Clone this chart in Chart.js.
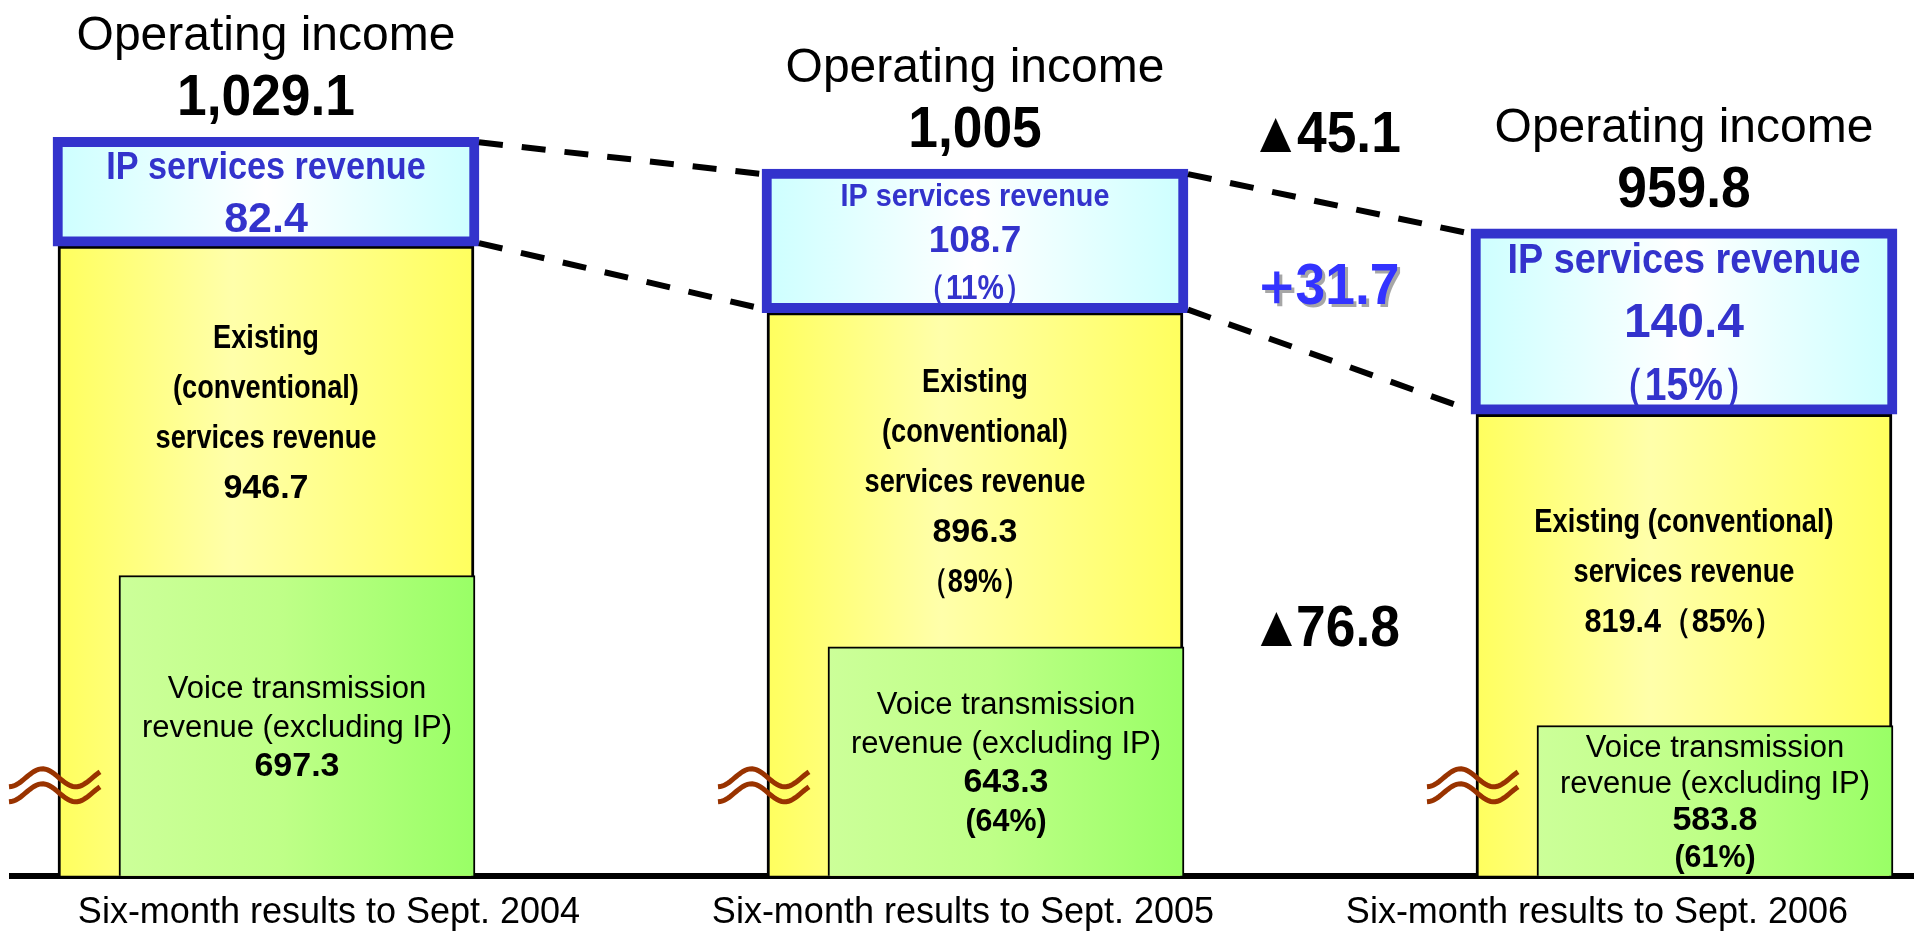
<!DOCTYPE html>
<html>
<head>
<meta charset="utf-8">
<title>IP services revenue vs existing services revenue</title>
<script src="https://cdn.jsdelivr.net/npm/chart.js@4.4.1/dist/chart.umd.min.js"></script>
<style>
  html, body { margin: 0; padding: 0; background: #fff; }
  #wrap { width: 1914px; height: 933px; }
</style>
</head>
<body>
<div id="wrap"><canvas id="myChart"></canvas></div>
<script>
// values (billions of yen)
const periods = ['Six-month results to Sept. 2004', 'Six-month results to Sept. 2005', 'Six-month results to Sept. 2006'];
const operatingIncome = [1029.1, 1005, 959.8];
const ipRevenue = [82.4, 108.7, 140.4];
const existingRevenue = [946.7, 896.3, 819.4];
const voiceRevenue = [697.3, 643.3, 583.8];
const ipShare = [null, 11, 15];
const existingShare = [null, 89, 85];
const voiceShare = [null, 64, 61];
const incomeChange = -45.1;
const ipChange = 31.7;
const existingChange = -76.8;

const incomeCaption = 'Operating income';
const ipCaption = 'IP services revenue';
const existingCaption = [
  ['Existing', '(conventional)', 'services revenue'],
  ['Existing', '(conventional)', 'services revenue'],
  ['Existing (conventional)', 'services revenue']
];
const voiceCaption = ['Voice transmission', 'revenue (excluding IP)'];

const FONT = "'Liberation Sans', Arial, sans-serif";
const IP_BLUE = '#3333cc';

function barGradient(stops, axisId, width) {
  return (c) => {
    const scale = c.chart.scales[axisId];
    if (c.type !== 'data' || !scale || !c.raw) return stops[0][1];
    const cx = scale.getPixelForValue(c.raw.x);
    if (!isFinite(cx)) return stops[0][1];
    const g = c.chart.ctx.createLinearGradient(cx - width / 2, 0, cx + width / 2, 0);
    stops.forEach(s => g.addColorStop(s[0], s[1]));
    return g;
  };
}

function drawText(ctx, text, x, y, size, bold, color, sx) {
  ctx.save();
  ctx.translate(x, y);
  ctx.scale(sx || 1, 1);
  ctx.font = (bold ? 'bold ' : '') + size + 'px ' + FONT;
  ctx.fillStyle = color;
  ctx.textAlign = 'center';
  ctx.textBaseline = 'alphabetic';
  ctx.fillText(text, 0, 0);
  ctx.restore();
}

// ▲ / ＋ sign set tight against the figure
function drawChange(ctx, v, x, y, color) {
  const sym = v < 0 ? '\u25b2' : '\uff0b';
  const num = String(Math.abs(v));
  ctx.save();
  ctx.translate(x, y);
  ctx.scale(0.92, 1);
  ctx.font = 'bold 58px ' + FONT;
  ctx.fillStyle = color;
  ctx.textAlign = 'left';
  ctx.textBaseline = 'alphabetic';
  const m1 = ctx.measureText(sym), m2 = ctx.measureText(num);
  const a = m1.actualBoundingBoxRight + m1.actualBoundingBoxLeft;
  const b = m2.actualBoundingBoxRight + m2.actualBoundingBoxLeft;
  const start = -(a + 6 + b) / 2;
  ctx.fillText(sym, start + m1.actualBoundingBoxLeft, 0);
  ctx.fillText(num, start + a + 6 + m2.actualBoundingBoxLeft, 0);
  ctx.restore();
}

// centre a block of lines vertically between top and bottom
function drawBlock(ctx, lines, cx, top, bottom, maxGap, pad) {
  const avail = bottom - top;
  const n = lines.length;
  let fs = 1;
  let cap = lines[0].size * 0.72;
  let gap = n > 1 ? Math.min(maxGap, (avail - cap - 2 * pad) / (n - 1)) : 0;
  if (n > 1 && gap < maxGap * 0.85) {
    fs = Math.max(0.7, gap / (maxGap * 0.85));
    cap = lines[0].size * fs * 0.72;
    gap = Math.min(maxGap, (avail - cap - 2 * pad) / (n - 1));
  }
  const blockH = cap + gap * (n - 1);
  const y0 = top + (avail - blockH) / 2 + cap;
  lines.forEach((l, j) => {
    drawText(ctx, l.text, cx, y0 + j * gap, Math.round(l.size * fs), l.bold, l.color, l.sx);
  });
}

function drawBreak(ctx, x, y) {
  ctx.save();
  ctx.strokeStyle = '#993300';
  ctx.lineWidth = 5;
  for (const dy of [0, 15]) {
    ctx.beginPath();
    for (let k = 0; k <= 40; k++) {
      const s = k / 40;
      const th = -1.571 + s * 8.57;
      const px = x + s * 91;
      const py = y + dy - 9 * Math.sin(th);
      if (k === 0) ctx.moveTo(px, py); else ctx.lineTo(px, py);
    }
    ctx.stroke();
  }
  ctx.restore();
}

const annotations = {
  id: 'annotations',
  afterDatasetsDraw(chart) {
    const ctx = chart.ctx;
    const floor = chart.chartArea.bottom;
    const ip = chart.getDatasetMeta(0).data.map(e => e.getProps(['x', 'y', 'base', 'width'], true));
    const voice = chart.getDatasetMeta(1).data.map(e => e.getProps(['x', 'y', 'width'], true));
    const ex = chart.getDatasetMeta(2).data.map(e => e.getProps(['x', 'y', 'width'], true));

    // axis break marks
    ex.forEach(b => drawBreak(ctx, b.x - b.width / 2 - 49, floor - 98));

    // dashed connectors between the IP boxes
    ctx.save();
    ctx.strokeStyle = '#000';
    ctx.lineWidth = 6;
    ctx.setLineDash([24, 19]);
    const mids = [];
    for (let i = 0; i < ip.length - 1; i++) {
      const a = ip[i], b = ip[i + 1];
      const t0 = [a.x + a.width / 2, a.y + 5], t1 = [b.x - b.width / 2, b.y + 5];
      const b0 = [a.x + a.width / 2, a.base - 3], b1 = [b.x - b.width / 2, b.base - 4];
      ctx.beginPath(); ctx.moveTo(t0[0], t0[1]); ctx.lineTo(t1[0], t1[1]); ctx.stroke();
      ctx.beginPath(); ctx.moveTo(b0[0], b0[1]); ctx.lineTo(b1[0], b1[1]); ctx.stroke();
      mids.push({x: (t0[0] + t1[0]) / 2, top: (t0[1] + t1[1]) / 2, bottom: (b0[1] + b1[1]) / 2});
    }
    ctx.restore();

    ip.forEach((b, i) => {
      // operating income heading
      drawText(ctx, incomeCaption, b.x, b.y - 87, 48, false, '#000', 1);
      drawText(ctx, operatingIncome[i].toLocaleString('en-US'), b.x, b.y - 22, 58, true, '#000', 0.92);

      // IP services box
      const ipLines = [{text: ipCaption, size: 42, bold: true, color: IP_BLUE, sx: 0.9},
                       {text: String(ipRevenue[i]), size: 48, bold: true, color: IP_BLUE, sx: 1}];
      if (ipShare[i] !== null) ipLines.push({text: '\uff08' + ipShare[i] + '%\uff09', size: 46, bold: true, color: IP_BLUE, sx: 0.85});
      drawBlock(ctx, ipLines, b.x, b.y + 10, b.base - 10, 66, 4);

      // existing services (yellow part above the green box)
      const cap = existingCaption[i];
      const exLines = cap.map(t => ({text: t, size: 34, bold: true, color: '#000', sx: 0.8}));
      const exVal = String(existingRevenue[i]);
      if (existingShare[i] === null) {
        exLines.push({text: exVal, size: 34, bold: true, color: '#000', sx: 1});
      } else if (cap.length < 3) {
        exLines.push({text: exVal + '\uff08' + existingShare[i] + '%\uff09', size: 34, bold: true, color: '#000', sx: 0.9});
      } else {
        exLines.push({text: exVal, size: 34, bold: true, color: '#000', sx: 1});
        exLines.push({text: '\uff08' + existingShare[i] + '%\uff09', size: 34, bold: true, color: '#000', sx: 0.8});
      }
      drawBlock(ctx, exLines, ex[i].x, ex[i].y, voice[i].y, 50, 6);

      // voice transmission (green)
      const vLines = voiceCaption.map(t => ({text: t, size: 31, bold: false, color: '#000', sx: 1}));
      vLines.push({text: String(voiceRevenue[i]), size: 34, bold: true, color: '#000', sx: 1});
      if (voiceShare[i] !== null) vLines.push({text: '(' + voiceShare[i] + '%)', size: 32, bold: true, color: '#000', sx: 0.95});
      drawBlock(ctx, vLines, voice[i].x, voice[i].y, floor, 39, 9);
    });

    // change figures between the last two periods
    const m = mids[mids.length - 1];
    drawChange(ctx, incomeChange, m.x, m.top - 52, '#000');
    ctx.save();
    ctx.shadowColor = 'rgba(0,0,0,0.35)';
    ctx.shadowOffsetX = 3;
    ctx.shadowOffsetY = 3;
    drawChange(ctx, ipChange, m.x, (m.top + m.bottom) / 2 + 22, '#3333ff');
    ctx.restore();
    const greenMid = (voice[1].y + voice[2].y) / 2;
    drawChange(ctx, existingChange, m.x, (m.bottom + greenMid) / 2 + 123, '#000');
  }
};

const data = {
  labels: periods,
  datasets: [
    {
      label: 'IP services revenue',
      xAxisID: 'xb',
      data: periods.map((p, i) => ({x: i, y: [existingRevenue[i], existingRevenue[i] + ipRevenue[i]]})),
      backgroundColor: barGradient([[0, '#ccffff'], [0.5, '#ffffff'], [1, '#ccffff']], 'xb', 426),
      borderColor: IP_BLUE,
      borderWidth: 10,
      borderSkipped: false,
      barThickness: 426,
      grouped: false
    },
    {
      label: 'Voice transmission revenue (excluding IP)',
      xAxisID: 'xv',
      data: periods.map((p, i) => ({x: i, y: voiceRevenue[i]})),
      backgroundColor: barGradient([[0, '#ccff99'], [0.45, '#bfff88'], [1, '#99ff66']], 'xv', 356),
      borderColor: '#000',
      borderWidth: 2,
      borderSkipped: false,
      barThickness: 356,
      grouped: false
    },
    {
      label: 'Existing (conventional) services revenue',
      xAxisID: 'xb',
      data: periods.map((p, i) => ({x: i, y: existingRevenue[i]})),
      backgroundColor: barGradient([[0, '#ffff5e'], [0.42, '#ffffaa'], [1, '#ffff5e']], 'xb', 416),
      borderColor: '#000',
      borderWidth: 3,
      borderSkipped: false,
      barThickness: 416,
      grouped: false
    }
  ]
};

const config = {
  type: 'bar',
  data: data,
  options: {
    responsive: true,
    maintainAspectRatio: false,
    animation: false,
    layout: {padding: {left: 12, right: 0, top: 0, bottom: -18}},
    plugins: {legend: {display: false}, tooltip: {enabled: false}},
    scales: {
      x: {
        type: 'category',
        offset: true,
        grid: {display: false, drawTicks: false},
        border: {display: true, color: '#000', width: 6},
        ticks: {color: '#000', font: {family: FONT, size: 36}, padding: 16, maxRotation: 0, autoSkip: false}
      },
      xb: {type: 'linear', display: false, offset: false, min: -0.35824, max: 2.32442},
      xv: {type: 'linear', display: false, offset: false, min: -0.40196, max: 2.2807},
      y: {type: 'linear', display: false, min: 470, max: 1133}
    }
  },
  plugins: [annotations]
};

const myChart = new Chart(document.getElementById('myChart'), config);
</script>
</body>
</html>
